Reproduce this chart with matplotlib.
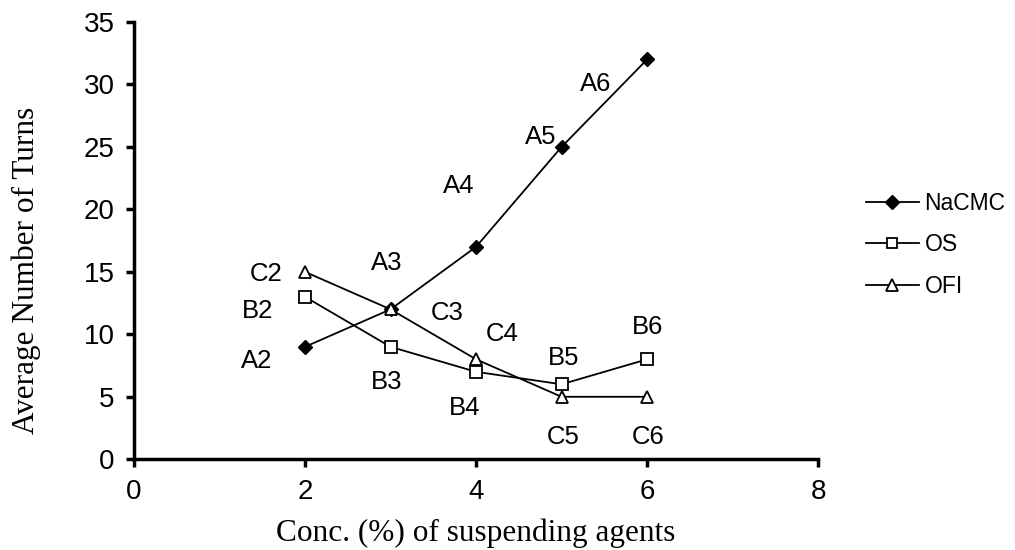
import matplotlib
matplotlib.use("Agg")
import matplotlib.pyplot as plt

conc = [2, 3, 4, 5, 6]
nacmc = [9, 12, 17, 25, 32]
os_vals = [13, 9, 7, 6, 8]
ofi_vals = [15, 12, 8, 5, 5]

series_names = ["NaCMC", "OS", "OFI"]
point_labels = {
    "NaCMC": ["A2", "A3", "A4", "A5", "A6"],
    "OS": ["B2", "B3", "B4", "B5", "B6"],
    "OFI": ["C2", "C3", "C4", "C5", "C6"],
}
# offsets (data units) of each point label from its point
label_offsets = {
    "NaCMC": [(-0.56, -1.1), (-0.05, 3.7), (-0.2, 4.9), (-0.24, 0.8), (-0.6, -2.0)],
    "OS": [(-0.56, -1.1), (-0.05, -2.8), (-0.13, -2.9), (0.02, 2.1), (0.0, 2.6)],
    "OFI": [(-0.46, -0.2), (0.66, -0.3), (0.3, 2.0), (0.02, -3.2), (0.01, -3.2)],
}

fig = plt.figure(figsize=(10.15, 5.5), dpi=100)
ax = fig.add_axes([0.132, 0.165, 0.674, 0.795])

sans = "Liberation Sans"
serif = "Liberation Serif"

ax.plot(conc, nacmc, color="black", lw=1.3, marker="D", markersize=7,
        markerfacecolor="black", markeredgecolor="black", label="NaCMC")
ax.plot(conc, os_vals, color="black", lw=1.3, marker="s", markersize=8,
        markerfacecolor="white", markeredgecolor="black", markeredgewidth=1.3, label="OS")
ax.plot(conc, ofi_vals, color="black", lw=1.3, marker="^", markersize=9,
        markerfacecolor="white", markeredgecolor="black", markeredgewidth=1.3, label="OFI")

for name, vals in zip(series_names, [nacmc, os_vals, ofi_vals]):
    for x, y, lab, (dx, dy) in zip(conc, vals, point_labels[name], label_offsets[name]):
        ax.text(x + dx, y + dy, lab, fontsize=18.5, family=sans, ha="center", va="center")

ax.set_xlim(0, 8)
ax.set_ylim(0, 35)
ax.set_xticks([0, 2, 4, 6, 8])
ax.set_yticks(range(0, 36, 5))
for s in ["top", "right"]:
    ax.spines[s].set_visible(False)
for s in ["left", "bottom"]:
    ax.spines[s].set_linewidth(2.5)
ax.tick_params(width=2.5, length=6, direction="out", labelsize=20, pad=8)
for t in ax.get_xticklabels() + ax.get_yticklabels():
    t.set_family(sans)

ax.set_xlabel("Conc. (%) of suspending agents", fontsize=22.5, family=serif, labelpad=10)
ax.set_ylabel("Average Number of Turns", fontsize=22.5, family=serif,
              va="center", ha="center")
ax.yaxis.set_label_coords(-0.157, 0.432)

leg = ax.legend(loc="center left", bbox_to_anchor=(1.07, 0.49), frameon=False,
                prop={"family": sans, "size": 16.5}, handlelength=2.3,
                labelspacing=0.8, handletextpad=0.25, borderpad=0,
                borderaxespad=0, markerscale=0.95)

fig.savefig("out.png", dpi=100)
